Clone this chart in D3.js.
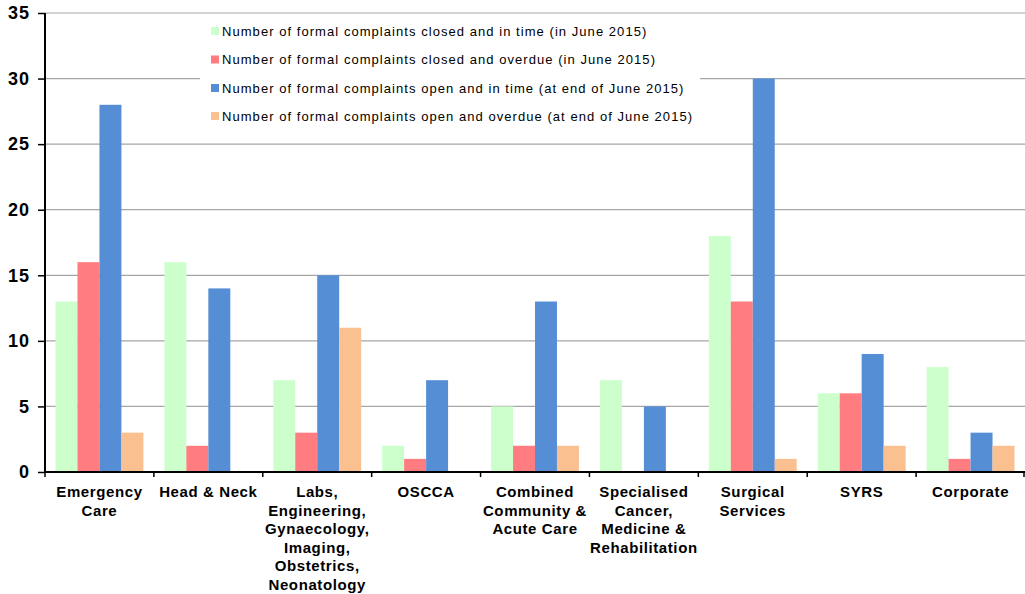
<!DOCTYPE html>
<html>
<head>
<meta charset="utf-8">
<script src="https://cdn.jsdelivr.net/npm/d3@7"></script>
<style>
  html, body { margin: 0; padding: 0; background: #fff; }
  svg { display: block; font-family: "Liberation Sans", Arial, sans-serif; }
</style>
</head>
<body>
<svg id="chart" width="1025" height="594"></svg>
<script>
// Directorates (each label split into its display lines)
const categories = [
  ["Emergency", "Care"],
  ["Head & Neck"],
  ["Labs,", "Engineering,", "Gynaecology,", "Imaging,", "Obstetrics,", "Neonatology"],
  ["OSCCA"],
  ["Combined", "Community &", "Acute Care"],
  ["Specialised", "Cancer,", "Medicine &", "Rehabilitation"],
  ["Surgical", "Services"],
  ["SYRS"],
  ["Corporate"]
];

const seriesNames = [
  "Number of formal complaints closed and in time (in June 2015)",
  "Number of formal complaints closed and overdue (in June 2015)",
  "Number of formal complaints open and in time (at end of June 2015)",
  "Number of formal complaints open and overdue (at end of June 2015)"
];
const seriesColors = ["#ccffcc", "#ff7c80", "#558ed5", "#fac090"];

const closedInTime   = [13, 16, 7, 2, 5, 7, 18, 6, 8];
const closedOverdue  = [16, 2, 3, 1, 2, 0, 13, 6, 1];
const openInTime     = [28, 14, 15, 7, 13, 5, 30, 9, 3];
const openOverdue    = [3, 0, 11, 0, 2, 0, 1, 2, 2];
const seriesValues = [closedInTime, closedOverdue, openInTime, openOverdue];

const yTicks = [0, 5, 10, 15, 20, 25, 30, 35];

const svg = d3.select("#chart");
const plot = { left: 45, right: 1025, top: 13, bottom: 472 };

const catIdx = categories.map((_, i) => i);
const x = d3.scaleBand().domain(catIdx).range([plot.left, plot.right]).padding(0);
const xInner = d3.scaleBand().domain(d3.range(seriesNames.length))
  .range([10.5, x.bandwidth() - 10.5]).padding(0);
const y = d3.scaleLinear().domain([0, 35]).range([plot.bottom, plot.top]);

// Horizontal gridlines
svg.append("g")
  .selectAll("line")
  .data(yTicks.filter(t => t > 0))
  .join("line")
  .attr("x1", plot.left).attr("x2", plot.right)
  .attr("y1", d => y(d)).attr("y2", d => y(d))
  .attr("stroke", "#a6a6a6").attr("stroke-width", 1.2);

// Bars
const groups = svg.append("g")
  .selectAll("g")
  .data(catIdx)
  .join("g")
  .attr("transform", i => `translate(${x(i)},0)`);

groups.selectAll("rect")
  .data(i => seriesValues.map((vals, s) => ({ s, v: vals[i] })))
  .join("rect")
  .attr("x", d => xInner(d.s))
  .attr("width", xInner.bandwidth())
  .attr("y", d => y(d.v))
  .attr("height", d => y(0) - y(d.v))
  .attr("fill", d => seriesColors[d.s]);

// Y axis
const yAxis = svg.append("g")
  .attr("transform", `translate(${plot.left},0)`)
  .call(d3.axisLeft(y).tickValues(yTicks).tickSize(7).tickPadding(8).tickFormat(d3.format("d")));
yAxis.select(".domain").attr("stroke", "#000").attr("stroke-width", 2).attr("d", `M0,${plot.top}V${plot.bottom}`);
yAxis.selectAll(".tick line").attr("stroke", "#000").attr("stroke-width", 1.5);
yAxis.selectAll(".tick text")
  .attr("fill", "#000")
  .style("font-size", "18px").style("font-weight", "bold")
  .style("letter-spacing", "1px");

// X axis
const xAxis = svg.append("g")
  .attr("transform", `translate(0,${plot.bottom})`);
xAxis.append("line")
  .attr("x1", plot.left).attr("x2", plot.right)
  .attr("y1", 0).attr("y2", 0)
  .attr("stroke", "#000").attr("stroke-width", 2);
xAxis.selectAll("line.tick")
  .data(catIdx.concat([categories.length]))
  .join("line")
  .attr("class", "tick")
  .attr("x1", i => i < categories.length ? x(i) : plot.right - 1)
  .attr("x2", i => i < categories.length ? x(i) : plot.right - 1)
  .attr("y1", 0).attr("y2", 5)
  .attr("stroke", "#000").attr("stroke-width", 1.5);

const labels = xAxis.selectAll("text.cat")
  .data(catIdx)
  .join("text")
  .attr("class", "cat")
  .attr("x", i => x(i) + x.bandwidth() / 2)
  .attr("y", 25)
  .attr("text-anchor", "middle")
  .style("font-size", "15px").style("font-weight", "bold")
  .style("letter-spacing", "0.6px")
  .attr("fill", "#000");
labels.selectAll("tspan")
  .data(i => categories[i])
  .join("tspan")
  .attr("x", function () { return d3.select(this.parentNode).attr("x"); })
  .attr("dy", (d, k) => k === 0 ? 0 : 18.5)
  .text(d => d);

// Legend
const legend = svg.append("g");
legend.append("rect")
  .attr("x", 200).attr("y", 15).attr("width", 500).attr("height", 114)
  .attr("fill", "#fff");
const legendRowY = [31, 59.5, 88, 116];
const items = legend.selectAll("g.item")
  .data(seriesNames.map((name, s) => ({ name, s })))
  .join("g")
  .attr("class", "item")
  .attr("transform", d => `translate(211,${legendRowY[d.s]})`);
items.append("rect")
  .attr("x", 0).attr("y", -4).attr("width", 8).attr("height", 8)
  .attr("fill", d => seriesColors[d.s]);
items.append("text")
  .attr("x", 11).attr("y", 0)
  .attr("dy", "0.35em")
  .style("font-size", "13px")
  .style("letter-spacing", "1.05px")
  .attr("fill", "#000")
  .text(d => d.name);
</script>
</body>
</html>
